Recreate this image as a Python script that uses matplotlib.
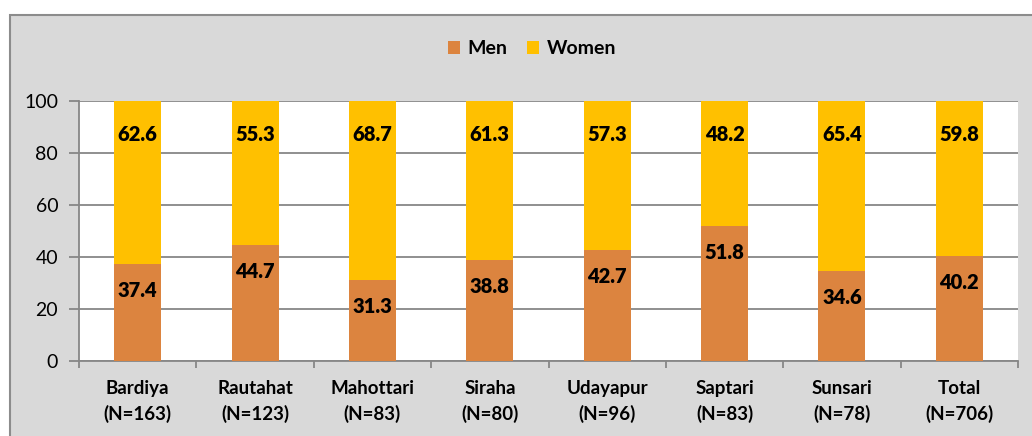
import numpy as np
import matplotlib.pyplot as plt
from matplotlib.patches import Rectangle

districts = ['Bardiya', 'Rautahat', 'Mahottari', 'Siraha', 'Udayapur', 'Saptari', 'Sunsari', 'Total']
n_sizes = [163, 123, 83, 80, 96, 83, 78, 706]
men = [37.4, 44.7, 31.3, 38.8, 42.7, 51.8, 34.6, 40.2]
women = [62.6, 55.3, 68.7, 61.3, 57.3, 48.2, 65.4, 59.8]

plt.rcParams['font.family'] = ['Lato', 'DejaVu Sans']

fig = plt.figure(figsize=(10.32, 4.36), dpi=100, facecolor='white')
# grey chart area with border (clipped at right and bottom like the original)
fig.patches.append(Rectangle((10/1032, -0.1), 1.2, 1 - 15/436 + 0.1, transform=fig.transFigure,
                             facecolor='#d9d9d9', edgecolor='#8c8c8c', linewidth=1.5, zorder=-1))

ax = fig.add_axes([79/1032, 1 - 361/436, (1018 - 79)/1032, 260/436])
ax.set_facecolor('white')

x = np.arange(len(districts))
w = 0.40
b1 = ax.bar(x, men, w, color='#dc843f', label='Men', zorder=3)
b2 = ax.bar(x, women, w, bottom=men, color='#ffc000', label='Women', zorder=3)

for i in range(len(x)):
    ax.annotate(f'{men[i]:.1f}', (x[i], men[i]), xytext=(0, -19), textcoords='offset points',
                ha='center', va='center', fontsize=14.5, fontweight='heavy', zorder=4)
    ax.annotate(f'{women[i]:.1f}', (x[i], 100), xytext=(0, -24), textcoords='offset points',
                ha='center', va='center', fontsize=14.5, fontweight='heavy', zorder=4)

ax.set_ylim(0, 100)
ax.set_xlim(-0.5, len(x) - 0.5)
ax.set_yticks(np.arange(0, 101, 20))
ax.yaxis.grid(True, color='#878787', linewidth=1.3, zorder=1)
ax.set_xticks(x)
ax.set_xticklabels([f'{d}\n(N={n})' for d, n in zip(districts, n_sizes)],
                   fontsize=13.5, fontweight='bold', linespacing=1.5)
ax.set_xticks(np.arange(-0.5, len(x), 1), minor=True)
ax.tick_params(axis='x', which='major', length=0, pad=14)
ax.tick_params(axis='x', which='minor', length=5, color='#878787', width=1.3)
ax.tick_params(axis='y', length=7, color='#878787', width=1.3, labelsize=14, pad=8)

for s in ['top', 'right']:
    ax.spines[s].set_visible(False)
for s in ['left', 'bottom']:
    ax.spines[s].set_color('#878787')
    ax.spines[s].set_linewidth(1.3)

leg = fig.legend(handles=[b1, b2], loc='center', bbox_to_anchor=(532/1032, 1 - 49/436), ncol=2,
                 frameon=False, prop={'weight': 'bold', 'size': 14}, handlelength=0.6,
                 handleheight=0.6, handletextpad=0.4, columnspacing=1.0)

fig.savefig('out.png', dpi=100, facecolor=fig.get_facecolor())
